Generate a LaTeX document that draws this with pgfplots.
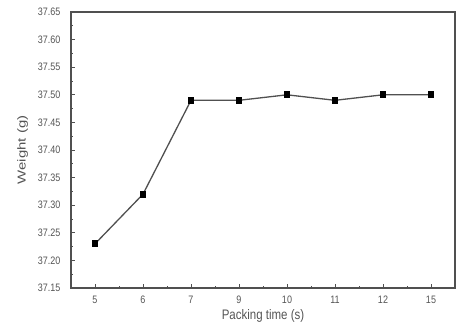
\documentclass[border=0pt]{standalone}
\usepackage{pgfplots}
\pgfplotsset{compat=1.18}
\usepackage{fontspec}
\setmainfont{Liberation Sans}
\definecolor{txt}{HTML}{555555}
\definecolor{ln}{HTML}{505050}
\begin{document}
\begin{tikzpicture}[x=1pt,y=1pt]
\useasboundingbox (-71pt,-44pt) rectangle (386pt,288pt);
\begin{axis}[
  anchor=south west, at={(0pt,0pt)},
  width=384pt, height=276pt, scale only axis,
  xmin=-0.5, xmax=7.5,
  ymin=37.15, ymax=37.65,
  xtick={0,1,2,3,4,5,6,7},
  xticklabels={5,6,7,9,10,11,12,15},
  ytick={37.15,37.20,...,37.66},
  yticklabel={\pgfmathprintnumber[fixed,fixed zerofill,precision=2]{\tick}},
  /pgf/number format/assume math mode=true,
  minor x tick num=1, minor y tick num=1,
  tick align=inside,
  xtick pos=bottom, ytick pos=left,
  major tick length=4.5pt, minor tick length=2.5pt,
  every tick/.style={ln, line width=0.8pt},
  axis line style={ln, line width=1.1pt},
  tick label style={txt, font=\fontsize{9}{10}\selectfont, yscale=1.2},
  yticklabel style={xshift=-7pt},
  xticklabel style={yshift=-3pt},
  xlabel={Packing time (s)},
  ylabel={Weight (g)},
  label style={txt, font=\fontsize{11.5}{12}\selectfont},
  xlabel style={yshift=2pt, yscale=1.2},
  ylabel style={yshift=3pt, xscale=1.3},
]
\addplot[ln, line width=1.3pt, mark=square*, mark size=2.8pt, mark options={black, fill=black}]
coordinates {(0,37.23) (1,37.32) (2,37.49) (3,37.49) (4,37.50) (5,37.49) (6,37.50) (7,37.50)};
\end{axis}
\end{tikzpicture}
\end{document}
